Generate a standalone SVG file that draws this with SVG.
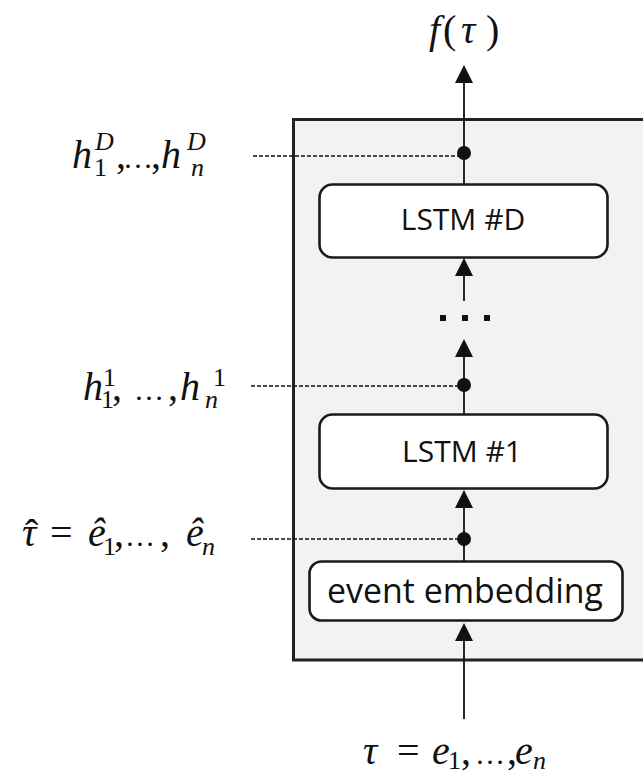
<svg xmlns="http://www.w3.org/2000/svg" xmlns:xlink="http://www.w3.org/1999/xlink" width="643" height="773" viewBox="0 0 643 773">
<style>
.m{font-family:"Liberation Serif","DejaVu Serif",serif;font-size:40px;fill:#111}
.i{font-style:italic}
.s{font-size:26px}
.el{font-size:30px}
.box{fill:#fff;stroke:#1a1a1a;stroke-width:2.6}
.lbl{font-family:"Open Sans","Noto Sans","Liberation Sans",sans-serif;fill:#111;text-anchor:middle}
.ln{stroke:#111;stroke-width:1.8;fill:none}
.dash{stroke:#111;stroke-width:1.3;stroke-dasharray:4 2;fill:none}
.ah{fill:#111}
.dot{fill:#111}
</style>
<defs>
<path id="ah" d="M0,0 L-9,18 L9,18 Z"/>
</defs>
<rect width="643" height="773" fill="#fff"/>
<g id="container">
<rect x="293.5" y="119.5" width="360" height="540.5" fill="#f2f2f2" stroke="#222" stroke-width="3"/>
</g>
<g id="lstmD">
<rect class="box" x="319.5" y="184.5" width="288" height="73" rx="13"/>
<text class="lbl" x="463" y="229.5" font-size="30">LSTM #D</text>
</g>
<g id="lstm1">
<rect class="box" x="319.5" y="414.5" width="288" height="74" rx="13"/>
<text class="lbl" x="462" y="461.5" font-size="30">LSTM #1</text>
</g>
<g id="embedding">
<rect class="box" x="309.5" y="561.5" width="313" height="59" rx="12"/>
<text class="lbl" x="465" y="602.5" font-size="35" textLength="276" lengthAdjust="spacingAndGlyphs">event embedding</text>
</g>
<g id="connectors">
<line class="ln" x1="464" y1="80" x2="464" y2="184"/>
<use xlink:href="#ah" href="#ah" class="ah" x="464" y="65"/>
<circle class="dot" cx="464" cy="153" r="7"/>
<line class="dash" x1="253" y1="156" x2="462" y2="156"/>
<line class="ln" x1="464" y1="274" x2="464" y2="301"/>
<use xlink:href="#ah" href="#ah" class="ah" x="464" y="258"/>
<rect class="dot" x="440" y="315" width="6" height="6"/>
<rect class="dot" x="462" y="315" width="6" height="6"/>
<rect class="dot" x="484" y="315" width="6" height="6"/>
<line class="ln" x1="464" y1="355" x2="464" y2="414"/>
<use xlink:href="#ah" href="#ah" class="ah" x="464" y="339"/>
<circle class="dot" cx="464" cy="385" r="7"/>
<line class="dash" x1="251" y1="386" x2="462" y2="386"/>
<line class="ln" x1="464" y1="506" x2="464" y2="561"/>
<use xlink:href="#ah" href="#ah" class="ah" x="464" y="490"/>
<circle class="dot" cx="464" cy="539" r="7"/>
<line class="dash" x1="251" y1="539" x2="462" y2="539"/>
<line class="ln" x1="464" y1="639" x2="464" y2="719"/>
<use xlink:href="#ah" href="#ah" class="ah" x="464" y="623"/>
</g>
<g id="label-output">
<text class="m"><tspan class="i" x="429" y="43">f</tspan><tspan x="443" y="43">(</tspan><tspan class="i" x="461" y="43">τ</tspan><tspan x="486" y="43">)</tspan></text>
</g>
<g id="label-hD">
<text class="m"><tspan class="i" x="72" y="168">h</tspan><tspan class="i s" x="95" y="150">D</tspan><tspan class="s" x="94" y="176">1</tspan><tspan x="116" y="168">,</tspan><tspan class="el" x="123" y="168">…</tspan><tspan x="151" y="168">,</tspan><tspan class="i" x="161" y="168">h</tspan><tspan class="i s" x="187" y="150">D</tspan><tspan class="i s" x="191" y="176">n</tspan></text>
</g>
<g id="label-h1">
<text class="m"><tspan class="i" x="83" y="400">h</tspan><tspan class="s" x="103" y="386">1</tspan><tspan class="s" x="101" y="408">1</tspan><tspan x="112" y="400">,</tspan><tspan class="el" x="134" y="400">…</tspan><tspan x="168" y="400">,</tspan><tspan class="i" x="180" y="400">h</tspan><tspan class="s" x="213" y="386">1</tspan><tspan class="i s" x="205" y="408">n</tspan></text>
</g>
<g id="label-emb">
<text class="m"><tspan class="i" x="22" y="546">τ</tspan><tspan x="25" y="547">ˆ</tspan><tspan x="50" y="546">=</tspan><tspan class="i" x="88" y="546">ê</tspan><tspan class="s" x="103" y="555">1</tspan><tspan x="114" y="546">,</tspan><tspan class="el" x="125" y="546">…</tspan><tspan x="160" y="546">,</tspan><tspan class="i" x="186" y="546">ê</tspan><tspan class="i s" x="202" y="555">n</tspan></text>
</g>
<g id="label-input">
<text class="m"><tspan class="i" x="363" y="764">τ</tspan><tspan x="397" y="764">=</tspan><tspan class="i" x="432" y="764">e</tspan><tspan class="s" x="448" y="769">1</tspan><tspan x="461" y="764">,</tspan><tspan class="el" x="475" y="764">…</tspan><tspan x="507" y="764">,</tspan><tspan class="i" x="515" y="764">e</tspan><tspan class="i s" x="533" y="769">n</tspan></text>
</g>
</svg>
